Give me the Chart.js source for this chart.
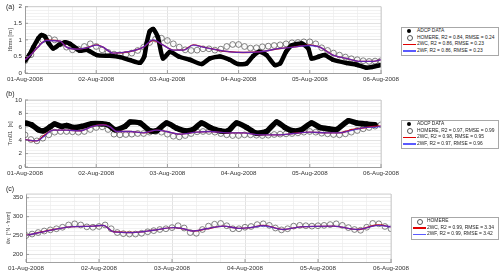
<!DOCTYPE html>
<html>
<head>
<meta charset="utf-8">
<script src="https://cdn.jsdelivr.net/npm/chart.js@4.4.1/dist/chart.umd.min.js"></script>
<style>
  body { margin: 0; width: 500px; height: 275px; background: #fff; overflow: hidden; position: relative;
         font-family: "Liberation Sans", Arial, sans-serif; }
  .pane { position: absolute; left: 0; }
  .tag { position: absolute; left: 6px; font-size: 7px; color: #222; }
  .lg { position: absolute; border: 0.8px solid #a8a8a8; background: #fff; font-size: 4.9px; color: #222; }
  .lg div { position: relative; height: 6.6px; line-height: 6.6px; padding-left: 15px; white-space: nowrap; }
  .dot, .ring, .ln { position: absolute; }
  .dot { left: 5px; top: 1.2px; width: 4.2px; height: 4.2px; border-radius: 50%; background: #000; }
  .ring { left: 4.6px; top: 0.9px; width: 4px; height: 4px; border-radius: 50%; border: 0.7px solid #555; }
  .ln { left: 1px; top: 2.7px; width: 13px; height: 1.3px; }
</style>
</head>
<body>
<canvas id="pa" class="pane" style="top:0" width="500" height="90"></canvas>
<canvas id="pb" class="pane" style="top:90px" width="500" height="92"></canvas>
<canvas id="pc" class="pane" style="top:182px" width="500" height="93"></canvas>

<div class="tag" style="top:3px">(a)</div>
<div class="tag" style="top:90px">(b)</div>
<div class="tag" style="top:185px">(c)</div>

<div class="lg" style="left:401px;top:27px;width:96px;height:27px">
  <div><span class="dot"></span>ADCP DATA</div>
  <div><span class="ring"></span>HOMERE, R2 = 0.84, RMSE = 0.24</div>
  <div><span class="ln" style="background:#e00000"></span>2WC, R2 = 0.86, RMSE = 0.23</div>
  <div><span class="ln" style="background:#5a5aff"></span>2WF, R2 = 0.86, RMSE = 0.23</div>
</div>
<div class="lg" style="left:401px;top:120px;width:96px;height:27px">
  <div><span class="dot"></span>ADCP DATA</div>
  <div><span class="ring"></span>HOMERE, R2 = 0.97, RMSE = 0.99</div>
  <div><span class="ln" style="background:#e00000"></span>2WC, R2 = 0.98, RMSE = 0.95</div>
  <div><span class="ln" style="background:#5a5aff"></span>2WF, R2 = 0.97, RMSE = 0.96</div>
</div>
<div class="lg" style="left:411px;top:217px;width:86px;height:20.5px">
  <div><span class="ring"></span>HOMERE</div>
  <div><span class="ln" style="background:#e00000"></span>2WC, R2 = 0.99, RMSE = 3.34</div>
  <div><span class="ln" style="background:#5a5aff"></span>2WF, R2 = 0.99, RMSE = 3.42</div>
</div>

<script>
// time axis: hours since 01-Aug-2008 00:00
const dayLabels = ['01-Aug-2008', '02-Aug-2008', '03-Aug-2008', '04-Aug-2008', '05-Aug-2008', '06-Aug-2008'];
const homereHours = [0, 2, 4, 6, 8, 10, 12, 14, 16, 18, 20, 22, 24, 26, 28, 30, 32, 34, 36, 38,
  40, 42, 44, 46, 48, 50, 52, 54, 56, 58, 60, 62, 64, 66, 68, 70, 72, 74, 76, 78,
  80, 82, 84, 86, 88, 90, 92, 94, 96, 98, 100, 102, 104, 106, 108, 110, 112, 114, 116, 118, 120];

// (a) Hrms [m]
const adcpHrmsHours = [0, 1.5, 2.8, 4.5, 5.6, 6.7, 8, 9.5, 11.5, 13.5, 15.2, 18.5, 20.8, 24.2, 28.6, 32, 35.4, 38.8, 40.2, 41,
  42, 43.2, 44.8, 46.5, 48.9, 52, 55.6, 59.5, 62.3, 65.7, 69, 71.8, 74.7, 76.9, 79, 81.4, 84.2, 86, 88, 90,
  93.3, 95.5, 96.6, 98.9, 101, 103.8, 108.4, 111.8, 115, 117, 120];
const adcpHrms = [0.37, 0.55, 0.78, 1.05, 1.15, 1.1, 0.9, 0.74, 0.85, 0.93, 0.88, 0.67, 0.70, 0.54, 0.52, 0.48, 0.39, 0.31, 0.5, 0.9,
  1.25, 1.33, 1.08, 0.44, 0.64, 0.49, 0.40, 0.27, 0.44, 0.5, 0.40, 0.27, 0.29, 0.51, 0.64, 0.54, 0.24, 0.29, 0.64, 0.84,
  0.89, 0.74, 0.44, 0.49, 0.54, 0.40, 0.30, 0.25, 0.16, 0.18, 0.24];
const homereHrms = [0.37, 0.55, 0.85, 1.0, 1.05, 1.0, 0.88, 0.78, 0.7, 0.72, 0.8, 0.88, 0.8, 0.7, 0.62, 0.57, 0.55, 0.56, 0.6, 0.68,
  0.78, 0.92, 1.02, 1.05, 0.98, 0.88, 0.78, 0.7, 0.68, 0.69, 0.73, 0.73, 0.69, 0.72, 0.8, 0.86, 0.86, 0.8, 0.75, 0.76,
  0.79, 0.81, 0.83, 0.85, 0.88, 0.91, 0.92, 0.94, 0.94, 0.88, 0.76, 0.68, 0.6, 0.54, 0.48, 0.43, 0.40, 0.37, 0.35, 0.36, 0.37];
const modelHrmsHours = [0, 2, 4, 7.3, 11.8, 14, 17.4, 20.8, 24.2, 26.3, 29.7, 35.4, 39.9, 43.2, 46.6, 50, 53.4, 56.7, 60.1, 64.6,
  69, 73.5, 79, 86, 90.4, 96, 99.4, 103.8, 108.4, 113, 117.3, 120];
const wcHrms = [0.4, 0.55, 0.75, 0.99, 0.96, 0.78, 0.72, 0.76, 0.85, 0.78, 0.6, 0.65, 0.78, 0.99, 0.84, 0.69, 0.69, 0.85, 0.78, 0.70,
  0.64, 0.62, 0.64, 0.74, 0.78, 0.84, 0.78, 0.54, 0.44, 0.35, 0.35, 0.4];
const wfHrms = [0.4, 0.55, 0.75, 0.98, 0.96, 0.78, 0.72, 0.76, 0.84, 0.78, 0.6, 0.65, 0.78, 1.0, 0.84, 0.69, 0.69, 0.84, 0.78, 0.70,
  0.64, 0.62, 0.64, 0.74, 0.78, 0.83, 0.78, 0.54, 0.44, 0.35, 0.35, 0.4];

// (b) Tm01 [s]
const adcpTmHours = [0.3, 2.2, 4.5, 6.2, 8.5, 9.9, 12.4, 14, 16.3, 19, 22.5, 25.8, 28, 30.3, 33.7, 35.4, 38.8, 42.1, 44.4, 47.7,
  51.1, 53.9, 56.7, 59.5, 62.4, 65.7, 68.5, 71.3, 74.7, 78, 81.4, 84.8, 87.6, 90.4, 93.2, 96.6, 99.4, 102.2, 105, 109,
  111.8, 115.2, 118];
const adcpTm = [6.56, 6.3, 5.56, 5.4, 6.0, 6.4, 6.06, 6.2, 5.9, 6.05, 6.46, 6.46, 6.3, 5.56, 6.06, 6.7, 6.56, 5.4, 5.4, 6.56,
  5.8, 5.4, 5.6, 6.56, 5.9, 5.4, 5.4, 6.56, 5.9, 5.05, 5.3, 6.7, 5.9, 5.4, 5.56, 6.56, 5.9, 5.7, 5.6, 6.9,
  6.56, 6.4, 6.3];
const homereTm = [4.8, 4.1, 3.9, 4.3, 4.8, 5.2, 5.3, 5.3, 5.25, 5.2, 5.3, 5.6, 5.9, 6.0, 5.6, 4.9, 4.8, 4.85, 4.9, 5.0,
  5.0, 5.2, 5.3, 5.2, 4.9, 4.6, 4.5, 4.7, 5.0, 5.25, 5.3, 5.3, 5.2, 5.0, 4.8, 4.7, 4.7, 4.8, 4.8, 4.75,
  4.7, 4.75, 4.85, 4.9, 4.95, 5.0, 5.1, 5.2, 5.3, 5.2, 5.05, 4.95, 4.85, 4.8, 4.95, 5.2, 5.45, 5.7, 5.9, 6.1, 6.3];
const modelTmHours = [0, 1.1, 4, 6.2, 9.5, 14, 18.5, 23, 26.4, 28.7, 30.9, 35.4, 40, 44.4, 47.7, 52, 57.9, 62.4, 68, 73.6,
  79, 86, 90.4, 96, 101.7, 106, 110.5, 115, 119, 120];
const wcTm = [4.1, 4.0, 3.9, 4.6, 5.5, 5.5, 5.4, 6.1, 6.3, 6.0, 5.3, 5.3, 5.1, 5.5, 5.3, 4.9, 5.2, 5.3, 5.1, 5.1,
  4.8, 4.8, 5.0, 5.2, 5.1, 5.1, 5.6, 5.9, 6.1, 6.1];
const wfTm = [4.1, 4.0, 3.9, 4.5, 5.5, 5.5, 5.4, 6.1, 6.3, 6.0, 5.3, 5.3, 5.1, 5.5, 5.3, 4.9, 5.2, 5.3, 5.1, 5.1,
  4.8, 4.8, 5.0, 5.2, 5.1, 5.1, 5.5, 5.9, 6.0, 6.1];

// (c) mean wave direction [degN - from]
const homereDir = [250, 254, 258, 262, 265, 268, 272, 278, 281, 278, 273, 272, 274, 278, 268, 258, 255, 254, 254, 256,
  260, 263, 266, 268, 271, 276, 270, 258, 256, 266, 275, 280, 282, 276, 268, 268, 272, 274, 279, 281,
  277, 270, 265, 268, 275, 277, 276, 275, 276, 277, 279, 281, 277, 271, 266, 264, 272, 282, 281, 274, 268];
const modelDirHours = [0, 7.9, 14.5, 22.1, 25.4, 28.7, 35, 41.9, 48.5, 51.7, 55, 59.4, 64.9, 70, 73.7, 78, 84.6, 90.2, 101.2, 109,
  115.8, 120];
const wcDir = [250, 264, 273, 275, 277, 260, 258, 264, 271, 268, 262, 268, 275, 269, 271, 277, 266, 273, 275, 266, 278, 273];
const wfDir = [250, 264, 273, 275, 277, 260, 258, 264, 271, 268, 262, 268, 275, 269, 271, 276, 266, 273, 275, 266, 277, 273];

const pts = (xs, ys) => xs.map((x, i) => ({ x: x, y: ys[i] }));
const FONT = '"Liberation Sans", Arial, sans-serif';

// matlab style box: light top/right edges and short inward ticks at the labelled values
const frame = {
  id: 'frame',
  afterDraw(chart, args, opts) {
    const { ctx, chartArea: a, scales } = chart;
    ctx.save();
    ctx.strokeStyle = '#c8c8c8';
    ctx.lineWidth = 0.8;
    ctx.beginPath();
    ctx.moveTo(a.left, a.top); ctx.lineTo(a.right, a.top); ctx.lineTo(a.right, a.bottom);
    ctx.stroke();
    ctx.strokeStyle = '#8c8c8c';
    ctx.beginPath();
    for (let d = 0; d <= 120; d += 24) {
      const x = scales.x.getPixelForValue(d);
      ctx.moveTo(x, a.bottom); ctx.lineTo(x, a.bottom - 3);
    }
    opts.majors.forEach(v => {
      const y = scales.y.getPixelForValue(v);
      ctx.moveTo(a.left, y); ctx.lineTo(a.left + 3, y);
    });
    ctx.stroke();
    ctx.restore();
  }
};

function panel(id, o) {
  const isMajor = v => Math.abs(v / o.major - Math.round(v / o.major)) < 1e-6;
  const datasets = [
    { label: '2WF', data: pts(o.modelHours, o.wf), showLine: true, borderColor: 'rgba(50,50,255,0.68)', borderWidth: 1.3,
      pointRadius: 0, cubicInterpolationMode: 'monotone', order: 0 },
    { label: '2WC', data: pts(o.modelHours, o.wc), showLine: true, borderColor: '#d00000', borderWidth: 1.4,
      pointRadius: 0, cubicInterpolationMode: 'monotone', order: 1 },
    { label: 'HOMERE', data: pts(homereHours, o.homere), showLine: false, pointRadius: 2.9, pointBorderWidth: 0.7,
      pointBorderColor: '#505050', pointBackgroundColor: 'rgba(255,255,255,0)', order: 3 }
  ];
  if (o.adcp) {
    datasets.push({ label: 'ADCP DATA', data: pts(o.adcpHours, o.adcp), showLine: true, borderColor: '#000',
      borderWidth: o.adcpWidth, pointRadius: o.adcpWidth / 2, pointBackgroundColor: '#000', pointBorderWidth: 0,
      tension: 0.2, order: 2 });
  }
  new Chart(document.getElementById(id), {
    type: 'scatter',
    data: { datasets },
    plugins: [frame],
    options: {
      responsive: false,
      animation: false,
      layout: { padding: { top: o.top, right: o.right, left: 0, bottom: 0 } },
      plugins: { legend: { display: false }, tooltip: { enabled: false }, frame: { majors: o.majors } },
      scales: {
        x: {
          type: 'linear', min: 0, max: 120,
          afterFit: s => { s.height = o.xh; },
          border: { color: '#8c8c8c', width: 0.8 },
          grid: { drawTicks: false, lineWidth: 0.7,
                  color: c => (c.tick && c.tick.value % 24 === 0) ? '#d6d6d6' : '#ececec' },
          ticks: { stepSize: 8, autoSkip: false, maxRotation: 0, padding: 3, color: '#333',
                   font: { size: 6.2, family: FONT },
                   callback: v => (v % 24 === 0 ? dayLabels[v / 24] : '') }
        },
        y: {
          min: o.min, max: o.max,
          afterFit: s => { s.width = o.yw; },
          border: { color: '#8c8c8c', width: 0.8 },
          grid: { drawTicks: false, lineWidth: 0.7, color: c => (c.tick && isMajor(c.tick.value)) ? '#d6d6d6' : '#ececec' },
          ticks: { stepSize: o.minor, autoSkip: false, padding: 3, color: '#333',
                   font: { size: 6.2, family: FONT },
                   callback: v => (isMajor(v) ? String(Math.round(v * 10) / 10) : '') },
          title: { display: true, text: o.title, color: '#444', padding: { top: o.titlePad, bottom: 0 },
                   font: { size: o.titleSize, family: o.titleFont, style: o.titleStyle || 'normal' } }
        }
      }
    }
  });
}

panel('pa', { top: 6, right: 119, xh: 17, yw: 25, min: 0, max: 2, minor: 0.1, major: 0.5, majors: [0, 0.5, 1, 1.5, 2],
  title: 'Hrms [m]', titleFont: '"Liberation Serif", serif', titleSize: 6, titlePad: 7,
  homere: homereHrms, adcpHours: adcpHrmsHours, adcp: adcpHrms, adcpWidth: 4.5,
  modelHours: modelHrmsHours, wc: wcHrms, wf: wfHrms });

panel('pb', { top: 10, right: 119, xh: 15, yw: 25, min: 0, max: 10, minor: 0.5, major: 2, majors: [0, 2, 4, 6, 8, 10],
  title: 'Tm01  [s]', titleFont: FONT, titleSize: 5.8, titlePad: 7,
  homere: homereTm, adcpHours: adcpTmHours, adcp: adcpTm, adcpWidth: 5.5,
  modelHours: modelTmHours, wc: wcTm, wf: wfTm });

panel('pc', { top: 12, right: 109, xh: 13, yw: 26, min: 180, max: 360, minor: 10, major: 50, majors: [200, 250, 300, 350],
  title: 'θw  [°N - from]', titleFont: FONT, titleSize: 5, titlePad: 6,
  homere: homereDir, modelHours: modelDirHours, wc: wcDir, wf: wfDir });
</script>
</body>
</html>
